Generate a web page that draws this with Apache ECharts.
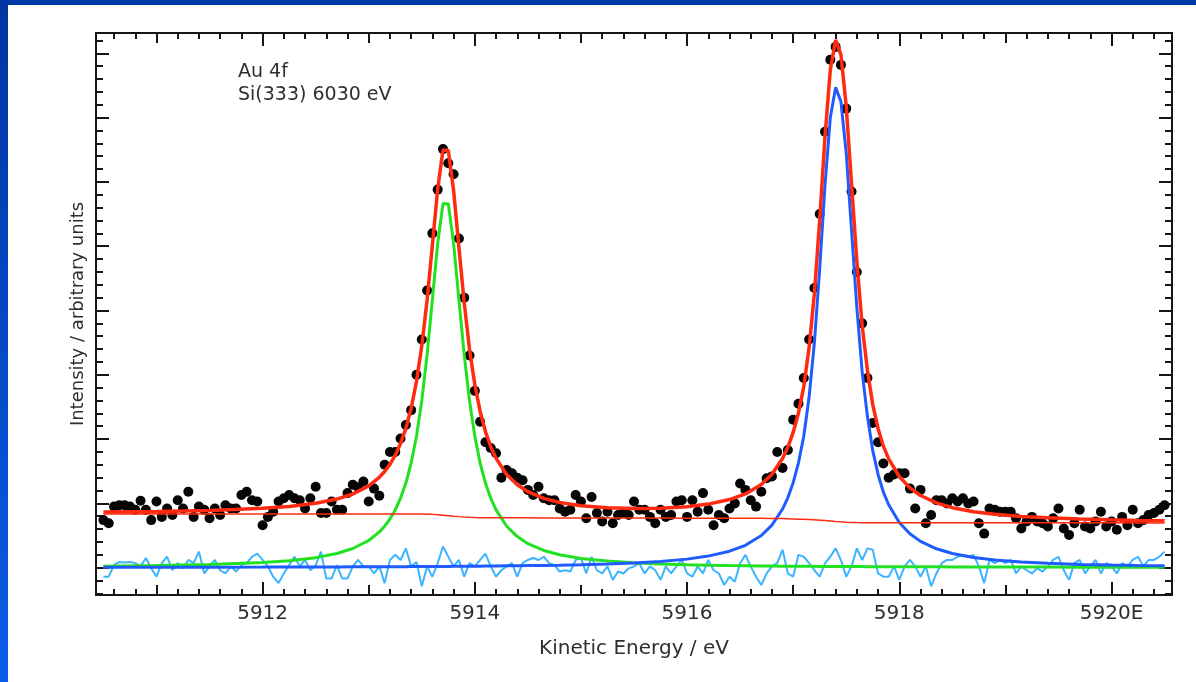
<!DOCTYPE html>
<html>
<head>
<meta charset="utf-8">
<script src="https://cdn.jsdelivr.net/npm/echarts@6/dist/echarts.min.js"></script>
<style>
html,body{margin:0;padding:0;width:1196px;height:682px;overflow:hidden;background:#0038a6;}
#leftbar{position:absolute;left:0;top:0;width:8px;height:682px;background:linear-gradient(#0036a2,#0a5ce8);}
#panel{position:absolute;left:8px;top:5px;width:1188px;height:677px;background:#ffffff;}
#chart{position:absolute;left:0;top:0;width:1196px;height:682px;}
</style>
</head>
<body>
<div id="leftbar"></div>
<div id="panel"></div>
<div id="chart"></div>
<script>
// ---------------- data ----------------
const dotStartEnergy = 5910.5;   // eV, first measured point
const dotStepEnergy = 0.05;      // eV, scan step
const dotIntensity = [
  0.74,0.69,0.95,0.97,0.97,0.95,0.90,1.04,0.90,0.74,
  1.03,0.79,0.92,0.82,1.05,0.92,1.18,0.79,0.95,0.90,
  0.77,0.92,0.82,0.97,0.92,0.92,1.13,1.18,1.05,1.03,
  0.66,0.79,0.87,1.03,1.08,1.13,1.08,1.05,0.92,1.08,
  1.26,0.85,0.85,1.03,0.90,0.90,1.16,1.29,1.25,1.34,
  1.03,1.23,1.12,1.60,1.80,1.80,2.01,2.22,2.45,3.00,
  3.55,4.31,5.20,5.88,6.51,6.29,6.12,5.12,4.20,3.30,
  2.75,2.27,1.95,1.86,1.78,1.40,1.52,1.47,1.40,1.36,
  1.21,1.13,1.26,1.08,1.05,1.05,0.92,0.87,0.90,1.13,
  1.03,0.77,1.10,0.85,0.72,0.87,0.69,0.82,0.85,0.82,
  1.03,0.90,0.90,0.79,0.69,0.90,0.79,0.82,1.03,1.05,
  0.79,1.05,0.87,1.16,0.90,0.66,0.82,0.77,0.92,1.00,
  1.31,1.21,1.05,0.95,1.18,1.39,1.42,1.80,1.55,1.83,
  2.30,2.55,2.95,3.55,4.35,5.50,6.78,7.90,8.10,7.82,
  7.14,5.85,4.60,3.80,2.95,2.25,1.95,1.62,1.40,1.45,
  1.47,1.47,1.23,0.92,1.21,0.69,0.82,1.05,1.05,1.00,
  1.08,1.03,1.08,1.00,1.03,0.69,0.53,0.92,0.90,0.87,
  0.87,0.87,0.77,0.61,0.72,0.79,0.72,0.69,0.64,0.77,
  0.92,0.61,0.51,0.69,0.90,0.64,0.61,0.72,0.87,0.64,
  0.72,0.59,0.79,0.66,0.90,0.69,0.74,0.82,0.85,0.90,
  0.97
];
const residual = [
  -0.14,-0.14,0.04,0.09,0.08,0.09,0.07,0.02,0.15,-0.01,
  -0.14,0.07,0.17,-0.04,0.07,-0.01,0.12,0.07,0.25,-0.09,
  0.02,0.12,-0.04,-0.09,0.02,-0.06,0.04,0.07,0.17,0.22,
  0.12,0.02,-0.14,-0.24,-0.09,0.04,0.17,0.02,0.12,-0.04,
  0.04,0.25,-0.17,-0.17,0.04,-0.17,-0.17,0.02,0.12,0.02,
  0.02,-0.09,0.02,-0.24,0.12,0.20,0.12,0.30,0.02,0.09,
  -0.29,0.02,-0.14,0.07,0.33,0.17,0.02,0.12,-0.14,0.07,
  0.02,0.12,0.22,0.02,-0.14,-0.04,0.02,0.07,-0.14,0.07,
  0.12,0.15,0.12,0.17,0.07,0.04,-0.06,-0.04,-0.06,0.12,
  0.15,-0.09,0.17,-0.04,-0.09,0.02,-0.19,-0.06,-0.09,-0.01,
  0.02,
  0.07,-0.09,0.02,-0.04,-0.19,0.02,-0.09,0.02,0.12,-0.09,
  -0.14,0.02,-0.09,0.12,-0.04,-0.09,-0.27,-0.14,-0.22,0.07,
  0.20,0.02,-0.14,-0.27,-0.09,0.02,0.07,0.28,-0.09,-0.14,
  0.20,0.17,0.07,-0.04,-0.14,0.07,0.17,0.30,0.12,-0.14,
  0.02,0.30,0.12,0.30,0.28,-0.09,-0.14,-0.14,0.02,-0.19,0.02,
  0.12,0.02,-0.14,0.02,-0.29,-0.09,0.07,0.12,0.12,0.17,
  0.20,0.17,0.20,0.02,-0.24,0.12,0.07,0.12,0.07,0.12,
  -0.09,0.02,-0.04,-0.09,-0.01,-0.06,0.02,0.12,0.17,-0.04,
  -0.19,0.07,0.12,-0.09,0.02,0.12,-0.09,0.07,0.02,-0.09,
  0.07,0.02,0.12,0.17,0.02,0.12,0.12,0.17,0.25
];
const fitEnergy = [
  5910.5,5911.0,5911.5,5912.0,5912.25,5912.5,5912.7,5912.85,5913.0,5913.1,
  5913.15,5913.2,5913.25,5913.3,5913.35,5913.4,5913.45,5913.5,5913.55,5913.6,
  5913.65,5913.7,5913.75,5913.8,5913.85,5913.9,5913.95,5914.0,5914.05,5914.1,
  5914.15,5914.2,5914.3,5914.4,5914.5,5914.65,5914.8,5915.0,5915.25,5915.5,
  5915.75,5916.0,5916.2,5916.4,5916.55,5916.7,5916.8,5916.9,5916.95,5917.0,
  5917.05,5917.1,5917.15,5917.2,5917.25,5917.3,5917.35,5917.4,5917.45,5917.5,
  5917.55,5917.6,5917.65,5917.7,5917.75,5917.8,5917.85,5917.9,5918.0,5918.1,
  5918.2,5918.35,5918.5,5918.7,5918.9,5919.15,5919.4,5919.7,5920.0,5920.25,5920.5
];
const fitEnvelope = [
  0.864,0.874,0.891,0.924,0.953,1.002,1.067,1.146,1.272,1.406,
  1.495,1.607,1.749,1.931,2.167,2.48,2.896,3.446,4.159,5.018,
  5.888,6.497,6.489,5.867,4.985,4.119,3.399,2.847,2.43,2.117,
  1.881,1.70,1.449,1.289,1.182,1.077,1.013,0.962,0.932,0.919,
  0.926,0.949,0.989,1.059,1.147,1.295,1.453,1.699,1.875,2.103,
  2.407,2.817,3.419,4.265,5.409,6.703,7.745,8.208,7.981,7.176,
  5.972,4.768,3.767,3.066,2.536,2.166,1.89,1.693,1.418,1.241,
  1.122,1.007,0.933,0.87,0.83,0.797,0.776,0.757,0.744,0.735,0.729
];
const background = [
  0.835,0.835,0.835,0.835,0.835,0.835,0.835,0.835,0.835,0.835,
  0.835,0.835,0.835,0.835,0.835,0.835,0.835,0.834,0.832,0.829,
  0.824,0.817,0.809,0.801,0.794,0.788,0.783,0.78,0.778,0.776,
  0.776,0.776,0.776,0.776,0.776,0.774,0.773,0.772,0.772,0.771,
  0.771,0.770,0.770,0.770,0.769,0.768,0.766,0.763,0.761,0.758,
  0.755,0.752,0.748,0.744,0.739,0.733,0.726,0.719,0.713,0.708,
  0.704,0.701,0.70,0.70,0.70,0.70,0.70,0.70,0.70,0.70,
  0.70,0.70,0.70,0.70,0.70,0.70,0.699,0.698,0.697,0.696,0.695
];
const peak4f72 = [
  0.023,0.032,0.048,0.080,0.108,0.156,0.220,0.298,0.423,0.556,
  0.645,0.757,0.898,1.08,1.316,1.628,2.044,2.594,3.309,4.17,
  5.045,5.66,5.66,5.045,4.17,3.309,2.594,2.044,1.628,1.316,
  1.08,0.898,0.645,0.483,0.374,0.268,0.201,0.144,0.102,0.075,
  0.058,0.046,0.039,0.033,0.030,0.027,0.026,0.024,0.024,0.023,
  0.022,0.022,0.021,0.021,0.020,0.020,0.019,0.019,0.018,0.018,
  0.018,0.017,0.017,0.016,0.016,0.016,0.015,0.015,0.015,0.014,
  0.013,0.013,0.012,0.011,0.010,0.009,0.009,0.008,0.007,0.006,0.006
];
const peak4f52 = [
  0.006,0.007,0.008,0.009,0.010,0.011,0.012,0.013,0.014,0.015,
  0.015,0.015,0.016,0.016,0.016,0.017,0.017,0.018,0.018,0.019,
  0.019,0.020,0.020,0.021,0.021,0.022,0.022,0.023,0.024,0.025,
  0.025,0.026,0.028,0.030,0.032,0.035,0.039,0.046,0.058,0.073,
  0.097,0.133,0.180,0.256,0.348,0.500,0.661,0.912,1.09,1.322,
  1.63,2.043,2.65,3.50,4.65,5.95,7.00,7.47,7.25,6.45,
  5.25,4.05,3.05,2.35,1.82,1.45,1.175,0.978,0.703,0.527,
  0.409,0.294,0.221,0.159,0.120,0.088,0.068,0.051,0.040,0.033,0.028
];
const xMajorTicks = [5912, 5914, 5916, 5918, 5920];
const xTickLabels = ['5912', '5914', '5916', '5918', '5920E'];
const xMediumTicks = [5911, 5913, 5915, 5917, 5919];
const yMajorTicks = [0, 1, 2, 3, 4, 5, 6, 7, 8];
const xAxisTitle = 'Kinetic Energy / eV';
const yAxisTitle = 'Intensity / arbitrary units';
const annotationLines = ['Au 4f', 'Si(333) 6030 eV'];

// ---------------- helpers ----------------
function steps(a, b, s) {
  const out = [];
  for (let i = 0; ; i++) {
    const v = Math.round((a + i * s) * 1000) / 1000;
    if (v > b + 1e-9) break;
    if (Math.abs(v - Math.round(v)) > 1e-6) out.push(v);
  }
  return out;
}
const xMinorTicks = steps(5910.6, 5920.4, 0.2);
const yMinorTicks = steps(-0.4, 8.2, 0.2);

const X_MIN = 5910.43, X_MAX = 5920.57, Y_MIN = -0.425, Y_MAX = 8.316;
const AXIS_COLOR = '#161616';
const FONT = 'DejaVu Sans';

function xAx(pos, ticks, len, extra) {
  return Object.assign({
    type: 'value', position: pos, min: X_MIN, max: X_MAX,
    axisLine: { show: true, onZero: false, lineStyle: { color: AXIS_COLOR, width: 2 } },
    axisTick: { show: true, inside: true, length: len, customValues: ticks, lineStyle: { color: AXIS_COLOR, width: 2 } },
    axisLabel: { show: false },
    splitLine: { show: false }
  }, extra || {});
}
function yAx(pos, ticks, len, extra) {
  return Object.assign({
    type: 'value', position: pos, min: Y_MIN, max: Y_MAX,
    axisLine: { show: true, onZero: false, lineStyle: { color: AXIS_COLOR, width: 2 } },
    axisTick: { show: true, inside: true, length: len, customValues: ticks, lineStyle: { color: AXIS_COLOR, width: 2 } },
    axisLabel: { show: false },
    splitLine: { show: false }
  }, extra || {});
}

const dots = dotIntensity.map((v, i) => [Math.round((dotStartEnergy + i * dotStepEnergy) * 100) / 100, v]);
const resid = residual.map((v, i) => [Math.round((dotStartEnergy + i * dotStepEnergy) * 100) / 100, v]);
const pair = arr => arr.map((v, i) => [fitEnergy[i], v]);

const chart = echarts.init(document.getElementById('chart'), null, { renderer: 'canvas' });
chart.setOption({
  animation: false,
  backgroundColor: 'transparent',
  grid: { left: 96, right: 24, top: 33, bottom: 87, containLabel: false },
  xAxis: [
    xAx('bottom', xMajorTicks, 13, {
      name: xAxisTitle, nameLocation: 'middle', nameGap: 44,
      nameTextStyle: { fontFamily: FONT, fontSize: 20, color: '#2e2e2e' },
      axisLabel: {
        show: true, customValues: xMajorTicks, margin: 9,
        fontFamily: FONT, fontSize: 20, color: '#2e2e2e',
        formatter: v => { const i = xMajorTicks.findIndex(t => Math.abs(t - v) < 1e-6); return i >= 0 ? xTickLabels[i] : ''; }
      }
    }),
    xAx('bottom', xMediumTicks, 10),
    xAx('bottom', xMinorTicks, 6),
    xAx('top', xMajorTicks, 13),
    xAx('top', xMediumTicks, 10),
    xAx('top', xMinorTicks, 6)
  ],
  yAxis: [
    yAx('left', yMajorTicks, 13, {
      name: yAxisTitle, nameLocation: 'middle', nameGap: 9,
      nameTextStyle: { fontFamily: FONT, fontSize: 18, color: '#2e2e2e' }
    }),
    yAx('left', yMinorTicks, 7),
    yAx('right', yMajorTicks, 13),
    yAx('right', yMinorTicks, 7)
  ],
  graphic: [{
    type: 'text', left: 238, top: 61,
    style: { text: annotationLines.join('\n'), font: '19px "DejaVu Sans"', lineHeight: 23, fill: '#2e2e2e' }
  }],
  series: [
    { name: 'data', type: 'scatter', data: dots, symbol: 'circle', symbolSize: 10,
      itemStyle: { color: '#050505', opacity: 1 }, xAxisIndex: 0, yAxisIndex: 0 },
    { name: 'residual', type: 'line', data: resid, showSymbol: false, symbol: 'none',
      lineStyle: { color: '#3cb4ff', width: 2 }, xAxisIndex: 0, yAxisIndex: 0 },
    { name: 'Au 4f7/2', type: 'line', data: pair(peak4f72), showSymbol: false, symbol: 'none',
      lineStyle: { color: '#22e022', width: 3 }, xAxisIndex: 0, yAxisIndex: 0 },
    { name: 'Au 4f5/2', type: 'line', data: pair(peak4f52), showSymbol: false, symbol: 'none',
      lineStyle: { color: '#1f5cff', width: 3 }, xAxisIndex: 0, yAxisIndex: 0 },
    { name: 'background', type: 'line', data: pair(background), showSymbol: false, symbol: 'none',
      lineStyle: { color: '#ff2a10', width: 1.5 }, xAxisIndex: 0, yAxisIndex: 0 },
    { name: 'fit', type: 'line', data: pair(fitEnvelope), showSymbol: false, symbol: 'none',
      lineStyle: { color: '#ff2a10', width: 3.5 }, xAxisIndex: 0, yAxisIndex: 0 }
  ]
});
</script>
</body>
</html>
